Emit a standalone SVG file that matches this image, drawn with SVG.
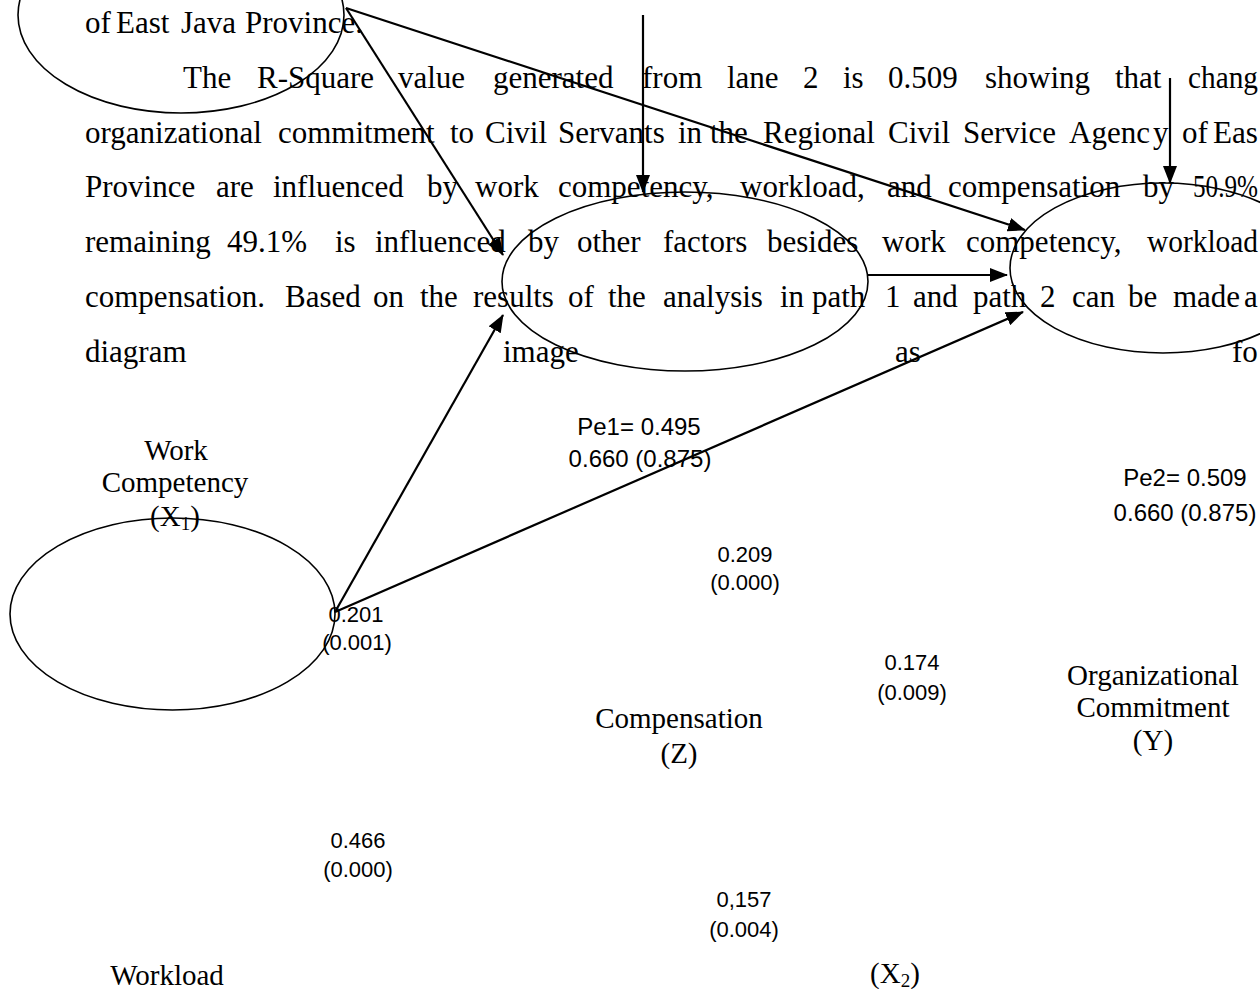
<svg xmlns="http://www.w3.org/2000/svg" width="1260" height="989" viewBox="0 0 1260 989">
<style>
.p{font-family:"Liberation Serif","Times New Roman",serif;font-size:31px;fill:#000}
.lb{font-family:"Liberation Serif","Times New Roman",serif;font-size:29px;fill:#000;text-anchor:middle}
.nm{font-family:"Liberation Sans",Arial,sans-serif;font-size:22px;fill:#000;text-anchor:middle}
.pe{font-family:"Liberation Sans",Arial,sans-serif;font-size:24px;fill:#000;text-anchor:middle}
.el{fill:none;stroke:#000;stroke-width:1.6}
.cn{fill:none;stroke:#000;stroke-width:2.2}
</style>
<defs>
<marker id="ah" markerUnits="userSpaceOnUse" markerWidth="18" markerHeight="14" viewBox="0 0 18 14" refX="17" refY="7" orient="auto">
<path d="M0,0 L18,7 L0,14 Z" fill="#000"/>
</marker>
</defs>
<rect width="1260" height="989" fill="#fff"/>
<g id="paragraph">
<text class="p" y="33"><tspan x="85">of</tspan><tspan x="116">East</tspan><tspan x="181">Java</tspan><tspan x="245">Province.</tspan></text>
<text class="p" y="88"><tspan x="183">The</tspan><tspan x="257">R-Square</tspan><tspan x="398">value</tspan><tspan x="493">generated</tspan><tspan x="642">from</tspan><tspan x="727">lane</tspan><tspan x="803">2</tspan><tspan x="843">is</tspan><tspan x="888">0.509</tspan><tspan x="985">showing</tspan><tspan x="1115">that</tspan><tspan x="1188" textLength="70" lengthAdjust="spacingAndGlyphs">chang</tspan></text>
<text class="p" y="143"><tspan x="85">organizational</tspan><tspan x="278">commitment</tspan><tspan x="450">to</tspan><tspan x="485">Civil</tspan><tspan x="558">Servants</tspan><tspan x="678">in</tspan><tspan x="710">the</tspan><tspan x="763">Regional</tspan><tspan x="888">Civil</tspan><tspan x="963">Service</tspan><tspan x="1069">Agenc</tspan><tspan x="1153">y</tspan><tspan x="1182">of</tspan><tspan x="1213" textLength="45" lengthAdjust="spacingAndGlyphs">Eas</tspan></text>
<text class="p" y="197"><tspan x="85">Province</tspan><tspan x="216">are</tspan><tspan x="273">influenced</tspan><tspan x="427">by</tspan><tspan x="475">work</tspan><tspan x="558">competency,</tspan><tspan x="740">workload,</tspan><tspan x="887">and</tspan><tspan x="948">compensation</tspan><tspan x="1143">by</tspan><tspan x="1193" textLength="65" lengthAdjust="spacingAndGlyphs">50.9%</tspan></text>
<text class="p" y="252"><tspan x="85">remaining</tspan><tspan x="227">49.1%</tspan><tspan x="335">is</tspan><tspan x="375">influenced</tspan><tspan x="528">by</tspan><tspan x="577">other</tspan><tspan x="663">factors</tspan><tspan x="767">besides</tspan><tspan x="882">work</tspan><tspan x="966">competency,</tspan><tspan x="1147" textLength="111" lengthAdjust="spacingAndGlyphs">workload</tspan></text>
<text class="p" y="307"><tspan x="85">compensation.</tspan><tspan x="285">Based</tspan><tspan x="373">on</tspan><tspan x="420">the</tspan><tspan x="473">results</tspan><tspan x="568">of</tspan><tspan x="608">the</tspan><tspan x="663">analysis</tspan><tspan x="780">in</tspan><tspan x="812">path</tspan><tspan x="885">1</tspan><tspan x="913">and</tspan><tspan x="973">path</tspan><tspan x="1040">2</tspan><tspan x="1072">can</tspan><tspan x="1128">be</tspan><tspan x="1173">made</tspan><tspan x="1244">a</tspan></text>
<text class="p" y="362"><tspan x="85">diagram</tspan><tspan x="503">image</tspan><tspan x="895">as</tspan><tspan x="1232">fo</tspan></text>
</g>
<g id="connectors">
<line class="cn" x1="346" y1="8" x2="1025" y2="230" marker-end="url(#ah)"/>
<line class="cn" x1="346" y1="8" x2="503" y2="255" marker-end="url(#ah)"/>
<line class="cn" x1="643" y1="15" x2="643" y2="192" marker-end="url(#ah)"/>
<line class="cn" x1="1170" y1="78" x2="1170" y2="183" marker-end="url(#ah)"/>
<line class="cn" x1="868" y1="275" x2="1007" y2="275" marker-end="url(#ah)"/>
<line class="cn" x1="335" y1="612" x2="503" y2="315" marker-end="url(#ah)"/>
<line class="cn" x1="335" y1="612" x2="1023" y2="312" marker-end="url(#ah)"/>
</g>
<g id="node-x2">
<ellipse class="el" cx="181" cy="15" rx="163" ry="98"/>
<text class="lb" x="167" y="985">Workload</text>
<text class="lb" x="895" y="983">(X<tspan font-size="19" dy="4">2</tspan><tspan dy="-4">)</tspan></text>
</g>
<g id="node-x1">
<ellipse class="el" cx="172.5" cy="614" rx="162.5" ry="96"/>
<text class="lb" x="176" y="460">Work</text>
<text class="lb" x="175" y="492">Competency</text>
<text class="lb" x="175" y="526">(X<tspan font-size="19" dy="4">1</tspan><tspan dy="-4">)</tspan></text>
</g>
<g id="node-z">
<ellipse class="el" cx="685" cy="281.5" rx="183" ry="89.5"/>
<text class="lb" x="679" y="728">Compensation</text>
<text class="lb" x="679" y="763">(Z)</text>
</g>
<g id="node-y">
<ellipse class="el" cx="1163" cy="268" rx="153" ry="85"/>
<text class="lb" x="1153" y="685">Organizational</text>
<text class="lb" x="1153" y="717">Commitment</text>
<text class="lb" x="1153" y="750">(Y)</text>
</g>
<g id="labels">
<text class="pe" x="639" y="435">Pe1= 0.495</text>
<text class="pe" x="640" y="467">0.660 (0.875)</text>
<text class="pe" x="1185" y="486">Pe2= 0.509</text>
<text class="pe" x="1185" y="521">0.660 (0.875)</text>
<text class="nm" x="356" y="622">0.201</text>
<text class="nm" x="357" y="650">(0.001)</text>
<text class="nm" x="745" y="562">0.209</text>
<text class="nm" x="745" y="590">(0.000)</text>
<text class="nm" x="912" y="670">0.174</text>
<text class="nm" x="912" y="700">(0.009)</text>
<text class="nm" x="358" y="848">0.466</text>
<text class="nm" x="358" y="877">(0.000)</text>
<text class="nm" x="744" y="907">0,157</text>
<text class="nm" x="744" y="937">(0.004)</text>
</g>
</svg>
